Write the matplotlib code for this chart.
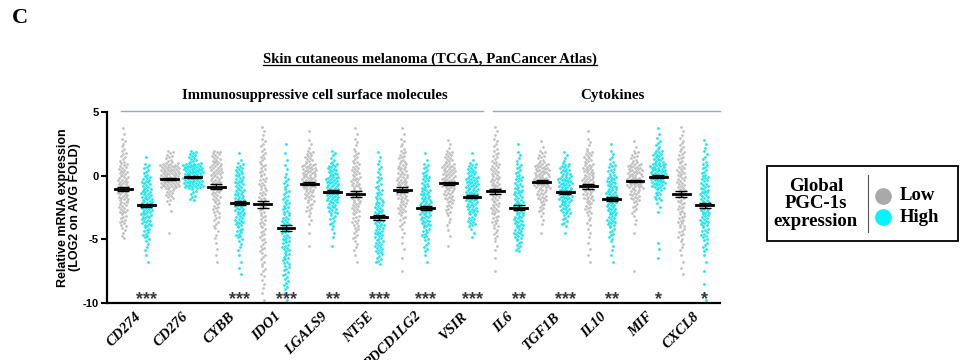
import matplotlib
matplotlib.use('Agg')
import matplotlib.pyplot as plt
from matplotlib.lines import Line2D
from matplotlib.transforms import ScaledTranslation
import numpy as np

genes = ['CD274', 'CD276', 'CYBB', 'IDO1', 'LGALS9', 'NT5E', 'PDCD1LG2',
         'VSIR', 'IL6', 'TGF1B', 'IL10', 'MIF', 'CXCL8']
stars = ['***', '', '***', '***', '**', '***', '***', '***', '**', '***', '**', '*', '*']

low_mean = [-1.05, -0.24, -0.87, -2.26, -0.63, -1.44, -1.10, -0.58, -1.23, -0.47, -0.84, -0.42, -1.42]
high_mean = [-2.34, -0.08, -2.15, -4.12, -1.26, -3.26, -2.57, -1.65, -2.52, -1.29, -1.81, -0.08, -2.31]
low_sem = [0.18, 0.08, 0.2, 0.3, 0.12, 0.2, 0.18, 0.12, 0.2, 0.1, 0.18, 0.1, 0.22]
high_sem = [0.15, 0.08, 0.18, 0.25, 0.12, 0.2, 0.15, 0.12, 0.2, 0.12, 0.15, 0.1, 0.2]

# point counts per 1-unit bin, bins from [4,3] down to [-9,-10]
low_counts = [
    [2, 5, 8, 14, 18, 18, 14, 10, 5, 0, 0, 0, 0, 0],
    [0, 0, 10, 35, 35, 12, 2, 0, 1, 0, 0, 0, 0, 0],
    [0, 0, 14, 20, 18, 14, 10, 7, 4, 2, 2, 0, 0, 0],
    [3, 5, 7, 9, 10, 10, 9, 9, 8, 7, 6, 5, 3, 2],
    [1, 3, 12, 25, 25, 15, 8, 3, 1, 1, 0, 0, 0, 0],
    [2, 4, 8, 12, 15, 15, 12, 10, 7, 4, 2, 0, 0, 0],
    [2, 5, 10, 15, 18, 16, 12, 7, 3, 2, 1, 1, 0, 0],
    [0, 3, 12, 22, 24, 16, 9, 4, 2, 1, 0, 0, 0, 0],
    [3, 5, 8, 13, 15, 14, 12, 10, 6, 3, 1, 1, 0, 0],
    [0, 2, 10, 25, 28, 16, 8, 3, 1, 0, 0, 0, 0, 0],
    [1, 4, 12, 18, 20, 16, 10, 5, 3, 2, 2, 0, 0, 0],
    [0, 2, 10, 25, 28, 16, 7, 3, 1, 0, 0, 1, 0, 0],
    [3, 6, 9, 12, 13, 12, 10, 10, 8, 4, 2, 2, 0, 0],
]
high_counts = [
    [0, 0, 1, 8, 14, 18, 20, 16, 10, 4, 2, 0, 0, 0],
    [0, 0, 12, 38, 35, 8, 0, 0, 0, 0, 0, 0, 0, 0],
    [0, 0, 2, 12, 14, 16, 16, 14, 10, 4, 2, 2, 0, 0],
    [0, 1, 2, 3, 6, 8, 10, 12, 12, 11, 10, 8, 6, 2],
    [0, 0, 6, 16, 22, 22, 15, 8, 3, 1, 0, 0, 0, 0],
    [0, 0, 3, 5, 7, 10, 14, 16, 14, 13, 8, 0, 0, 0],
    [0, 0, 2, 8, 12, 16, 20, 16, 10, 6, 2, 0, 0, 0],
    [0, 0, 2, 14, 22, 22, 18, 12, 3, 0, 0, 0, 0, 0],
    [0, 1, 4, 8, 12, 14, 16, 16, 14, 8, 0, 0, 0, 0],
    [0, 0, 4, 16, 24, 24, 16, 8, 1, 0, 0, 0, 0, 0],
    [0, 1, 5, 10, 16, 18, 16, 14, 8, 3, 2, 0, 0, 0],
    [2, 6, 16, 28, 24, 10, 3, 0, 0, 2, 1, 0, 0, 0],
    [0, 3, 5, 8, 12, 14, 16, 14, 10, 6, 2, 1, 1, 2],
]

LOW_C = '#C2C2C2'
HIGH_C = '#19E8F2'
SERIF = 'Liberation Serif'
SANS = 'Liberation Sans'
bin_tops = np.arange(4, -10, -1)


def swarm(pos, counts):
    xs, ys = [], []
    for top, n in zip(bin_tops, counts):
        if n == 0:
            continue
        k = np.arange(n)
        half = min(0.42, 0.04 + 0.011 * n)
        ys.append(top - (k + 0.5) / n)
        xs.append(pos + half * 2 * (((k * 0.618034 + 0.3) % 1) - 0.5))
    return np.concatenate(xs), np.concatenate(ys)


fig = plt.figure(figsize=(9.61, 3.6), dpi=100)
ax = fig.add_axes([0.1113, 0.1583, 0.6377, 0.5307])

for i, g in enumerate(genes):
    for j, (cnt, m, s, c) in enumerate([(low_counts[i], low_mean[i], low_sem[i], LOW_C),
                                        (high_counts[i], high_mean[i], high_sem[i], HIGH_C)]):
        pos = 2 * i + j
        x, y = swarm(pos, cnt)
        ax.scatter(x, y, s=4, color=c, linewidths=0, zorder=2)
        ax.plot([pos - 0.36, pos + 0.36], [m, m], color='black', lw=2.0, zorder=3)
        ax.errorbar(pos, m, yerr=s, color='black', lw=1.0, capsize=4, capthick=1.0, zorder=3)
    if stars[i]:
        ax.text(2 * i + 1, -9.7, stars[i], ha='center', va='center', fontsize=13,
                fontweight='bold', color='#3A3A3A', family=SANS)

ax.set_xlim(-0.7, 25.65)
ax.set_ylim(-10, 5)
ax.set_yticks([5, 0, -5, -10])
ax.set_yticklabels(['5', '0', '-5', '-10'], fontsize=8, fontweight='bold', family=SANS)
ax.set_xticks([2 * i + 0.5 for i in range(len(genes))])
ax.set_xticklabels(genes, rotation=45, ha='right', va='top', rotation_mode='anchor',
                   fontsize=10.5, fontweight='bold', fontstyle='italic', family=SERIF)
shift = ScaledTranslation(4 / 100, 0, fig.dpi_scale_trans)
for lab in ax.get_xticklabels():
    lab.set_transform(lab.get_transform() + shift)
ax.tick_params(axis='x', length=0, pad=5)
ax.tick_params(axis='y', length=4, width=1.5, pad=2)
for side in ['top', 'right']:
    ax.spines[side].set_visible(False)
for side in ['left', 'bottom']:
    ax.spines[side].set_linewidth(1.6)
ax.set_ylabel('Relative mRNA expression\n(LOG2 on AVG FOLD)', fontsize=9, fontweight='bold',
              family=SANS, labelpad=1, linespacing=1.0)

# header lines and group titles
fig.add_artist(Line2D([121 / 961, 483 / 961], [1 - 110.5 / 360] * 2, color='#8FA8D8', lw=1.0))
fig.add_artist(Line2D([493 / 961, 720 / 961], [1 - 110.5 / 360] * 2, color='#8FA8D8', lw=1.0))
fig.text(315 / 961, 1 - 96 / 360, 'Immunosuppressive cell surface molecules', ha='center', va='center',
         fontsize=10.6, fontweight='bold', family=SERIF)
fig.text(612 / 961, 1 - 96 / 360, 'Cytokines', ha='center', va='center',
         fontsize=10.8, fontweight='bold', family=SERIF)
title = fig.text(430 / 961, 1 - 59 / 360, 'Skin cutaneous melanoma (TCGA, PanCancer Atlas)',
                 ha='center', va='center', fontsize=10.6, fontweight='bold', family=SERIF)
fig.text(12 / 961, 1 - 18 / 360, 'C', ha='left', va='center', fontsize=16, fontweight='bold', family=SERIF)

# underline the title
fig.canvas.draw()
bb = title.get_window_extent().transformed(fig.transFigure.inverted())
fig.add_artist(Line2D([bb.x0, bb.x1], [bb.y0 + 0.003] * 2, color='black', lw=0.9))

# legend box
fig.add_artist(plt.Rectangle((767 / 961, 1 - 241 / 360), 191 / 961, 75 / 360, transform=fig.transFigure,
                             fill=False, edgecolor='black', lw=1.3))
fig.add_artist(Line2D([868 / 961] * 2, [1 - 175 / 360, 1 - 232 / 360], color='#555555', lw=0.8))
fig.text(816 / 961, 1 - 204 / 360, 'Global\nPGC-1s\nexpression', ha='center', va='center',
         fontsize=13.5, fontweight='bold', family=SERIF, linespacing=1.05)
fig.add_artist(Line2D([883 / 961], [1 - 196 / 360], marker='o', markersize=11, color='#A9A9A9', lw=0))
fig.add_artist(Line2D([883 / 961], [1 - 217 / 360], marker='o', markersize=11, color='#00F5FF', lw=0))
fig.text(900 / 961, 1 - 195 / 360, 'Low', ha='left', va='center', fontsize=13.5, fontweight='bold', family=SERIF)
fig.text(900 / 961, 1 - 218 / 360, 'High', ha='left', va='center', fontsize=13.5, fontweight='bold', family=SERIF)

fig.savefig('out.png', dpi=100)
